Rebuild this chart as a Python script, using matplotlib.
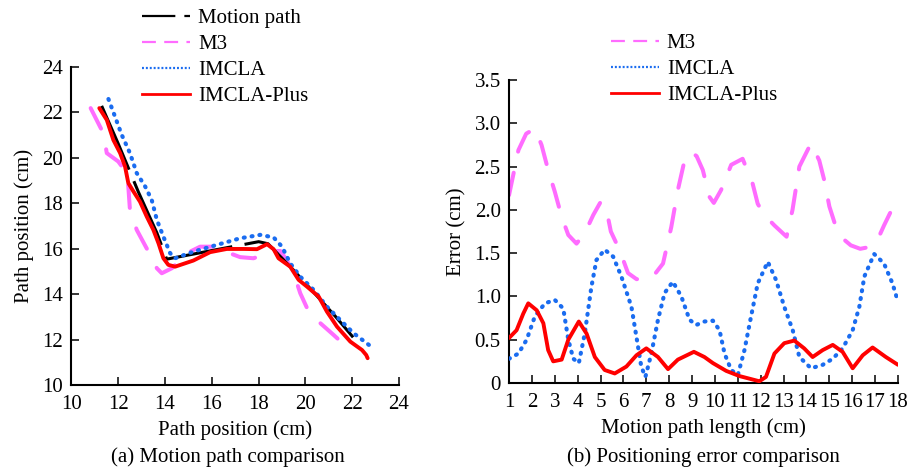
import numpy as np
import matplotlib
matplotlib.use("Agg")
import matplotlib.pyplot as plt
from matplotlib.lines import Line2D

plt.rcParams['font.family'] = ['Liberation Serif', 'DejaVu Serif']
plt.rcParams['font.size'] = 15
plt.rcParams['lines.scale_dashes'] = False

### colours
C_PATH = 'black'
C_M3 = '#ff6cff'
C_IMCLA = '#1a6cf0'
C_PLUS = '#ff0000'

### (a) motion path data
path_x = [11.29, 12.0, 12.86, 13.65, 14.07, 16.0, 18.0, 18.4, 19.5, 20.6, 21.3, 22.04]
path_y = [22.29, 20.62, 18.5, 16.7, 15.54, 15.92, 16.31, 16.22, 15.05, 13.8, 13.0, 12.1]

m3a_x = [10.82, 11.36, 11.51, 12.0, 12.36, 12.43, 12.5, 12.79, 13.29, 13.65, 13.86, 14.29,
         14.93, 15.5, 16.07, 16.64, 17.21, 17.78, 18.2, 18.6, 18.93, 19.2, 19.5, 19.78,
         20.14, 20.64, 21.21, 21.78]
m3a_y = [22.19, 21.09, 20.21, 19.84, 19.33, 18.74, 17.71, 16.83, 15.87, 15.14, 14.92, 15.14,
         15.8, 16.09, 16.09, 15.85, 15.63, 15.58, 15.73, 15.9, 15.9, 15.5, 14.92, 14.04,
         13.23, 12.72, 12.2, 11.66]

ima_x = [11.58, 11.86, 12.15, 12.5, 12.79, 13.15, 13.43, 13.65, 13.93, 14.22, 14.43, 15.21,
         16.22, 17.21, 18.07, 18.64, 19.0, 19.35, 19.78, 20.35, 20.92, 21.49, 22.06, 22.81]
ima_y = [22.59, 21.82, 21.01, 20.21, 19.33, 18.74, 18.15, 17.27, 16.53, 15.8, 15.58, 15.87,
         16.17, 16.46, 16.61, 16.5, 16.09, 15.36, 14.77, 14.19, 13.45, 12.86, 12.28, 11.69]

plusa_x = [11.19, 11.51, 11.79, 12.08, 12.29, 12.43, 12.65, 12.93, 13.22, 13.5, 13.72, 13.93,
           14.14, 14.43, 15.21, 15.93, 16.64, 17.35, 17.93, 18.36, 18.64, 18.85, 19.35, 19.71,
           20.07, 20.57, 20.92, 21.35, 21.92, 22.42, 22.6, 22.66]
plusa_y = [22.19, 21.67, 20.79, 20.21, 19.62, 18.89, 18.52, 18.07, 17.41, 16.83, 16.24, 15.58,
           15.29, 15.21, 15.48, 15.85, 15.99, 15.99, 15.98, 16.2, 15.98, 15.58, 15.21, 14.63,
           14.33, 13.89, 13.23, 12.57, 11.91, 11.54, 11.32, 11.18]

### (b) positioning error data
m3b_x = [1.0, 1.41, 1.75, 2.13, 2.42, 2.71, 3.0, 3.3, 3.59, 3.95, 4.31, 4.68, 5.0, 5.26, 5.45,
         5.77, 5.91, 6.2, 6.57, 6.93, 7.29, 7.73, 8.09, 8.38, 8.67, 8.96, 9.2, 9.47, 9.76,
         9.95, 10.27, 10.71, 11.21, 11.65, 11.87, 12.16, 12.6, 13.13, 13.39, 13.69, 14.2,
         14.56, 14.78, 15.0, 15.29, 15.58, 15.94, 16.35, 16.74, 17.1, 17.39, 17.76, 18.0]
m3b_y = [2.17, 2.69, 2.88, 2.94, 2.75, 2.46, 2.21, 1.92, 1.71, 1.61, 1.73, 1.94, 2.09, 2.0, 1.75,
         1.57, 1.48, 1.27, 1.2, 1.19, 1.23, 1.38, 1.8, 2.23, 2.57, 2.67, 2.62, 2.46, 2.15,
         2.08, 2.23, 2.52, 2.59, 2.3, 2.07, 1.94, 1.82, 1.69, 2.0, 2.5, 2.77,
         2.57, 2.34, 2.04, 1.8, 1.67, 1.59, 1.55, 1.57, 1.65, 1.82, 2.02, 2.12]

imb_x = [1.0, 1.41, 1.77, 2.13, 2.57, 3.0, 3.37, 3.59, 3.81, 4.05, 4.31, 4.6, 4.82, 5.18, 5.55,
         5.91, 6.35, 6.57, 6.78, 6.96, 7.22, 7.51, 7.8, 8.16, 8.53, 8.89, 9.18, 9.54, 9.91,
         10.2, 10.42, 10.71, 11.0, 11.29, 11.58, 11.87, 12.31, 12.67, 13.03, 13.4, 13.69,
         14.2, 14.71, 15.15, 15.58, 16.02, 16.31, 16.53, 16.96, 17.39, 17.76, 18.0]
imb_y = [0.28, 0.34, 0.5, 0.77, 0.92, 0.96, 0.86, 0.5, 0.28, 0.23, 0.57, 1.11, 1.42, 1.54, 1.46,
         1.23, 0.88, 0.53, 0.19, 0.07, 0.34, 0.73, 1.04, 1.17, 1.0, 0.73, 0.67, 0.71, 0.72,
         0.61, 0.34, 0.15, 0.09, 0.38, 0.77, 1.15, 1.4, 1.19, 0.88, 0.61, 0.3,
         0.17, 0.21, 0.28, 0.4, 0.61, 0.88, 1.23, 1.49, 1.38, 1.15, 0.94]

plusb_x = [1.0, 1.33, 1.62, 1.84, 2.21, 2.5, 2.71, 2.93, 3.3, 3.59, 4.05, 4.39, 4.75, 5.18, 5.62,
           6.13, 6.57, 7.0, 7.51, 7.95, 8.38, 9.08, 9.54, 9.91, 10.49, 11.07, 11.94, 12.23,
           12.6, 13.03, 13.47, 13.9, 14.27, 14.71, 15.15, 15.58, 16.02, 16.46, 16.89, 17.47, 18.0]
plusb_y = [0.52, 0.61, 0.8, 0.92, 0.84, 0.69, 0.38, 0.25, 0.27, 0.5, 0.71, 0.57, 0.3, 0.15, 0.11,
           0.19, 0.32, 0.4, 0.3, 0.16, 0.27, 0.36, 0.3, 0.23, 0.14, 0.08, 0.02, 0.07,
           0.34, 0.46, 0.49, 0.4, 0.3, 0.38, 0.44, 0.36, 0.17, 0.32, 0.41, 0.3, 0.21]

### styles (dash lengths in points)
st_path = dict(color=C_PATH, lw=2.2, linestyle=(0, (50, 9)), zorder=3)
st_m3 = dict(color=C_M3, lw=2.9, linestyle=(0, (16.5, 15.5)), dash_capstyle='round', zorder=2)
st_im = dict(color=C_IMCLA, lw=3.0, linestyle=(0, (0.7, 5.0)), dash_capstyle='round', zorder=4)
st_plus = dict(color=C_PLUS, lw=2.8, solid_capstyle='round', zorder=5)

leg_handles = {
    'Motion path': Line2D([], [], color=C_PATH, lw=1.6, linestyle=(0, (24, 6.5))),
    'M3': Line2D([], [], color=C_M3, lw=1.6, linestyle=(0, (10, 6))),
    'IMCLA': Line2D([], [], color=C_IMCLA, lw=1.6, linestyle=(0, (1.4, 1.4))),
    'IMCLA-Plus': Line2D([], [], color=C_PLUS, lw=2.0),
}

fig = plt.figure(figsize=(9.21, 4.69), dpi=100)
ax1 = fig.add_axes([0.0776, 0.1791, 0.3556, 0.6780])
ax2 = fig.add_axes([0.5527, 0.1834, 0.4223, 0.6460])

def style_axes(ax):
    for s in ['top', 'right']:
        ax.spines[s].set_visible(False)
    for s in ['left', 'bottom']:
        ax.spines[s].set_linewidth(1.5)
    ax.tick_params(direction='in', length=5.8, width=1.1, labelsize=15)
    ax.tick_params(axis='x', pad=7)
    ax.tick_params(axis='y', pad=6)

### (a)
ax1.plot(m3a_x, m3a_y, **st_m3)
ax1.plot(path_x, path_y, **st_path)
ax1.plot(ima_x, ima_y, **st_im)
ax1.plot(plusa_x, plusa_y, **st_plus)
ax1.set_xlim(10, 24)
ax1.set_ylim(10, 24)
ax1.set_xticks(range(10, 25, 2))
ax1.set_yticks(range(10, 25, 2))
style_axes(ax1)
ax1.set_xlabel('Path position (cm)', fontsize=15, labelpad=5)
ax1.set_ylabel('Path position (cm)', fontsize=15, labelpad=6)

names_a = ['Motion path', 'M3', 'IMCLA', 'IMCLA-Plus']
fig.legend([leg_handles[n] for n in names_a], names_a, loc='upper left',
           bbox_to_anchor=(0.154, 0.981), frameon=False, borderpad=0, borderaxespad=0,
           handlelength=2.3, handletextpad=0.4, labelspacing=0.3, fontsize=15)

### (b)
ax2.plot(m3b_x, m3b_y, **st_m3)
ax2.plot(imb_x, imb_y, **st_im)
ax2.plot(plusb_x, plusb_y, **st_plus)
ax2.set_xlim(1, 18)
ax2.set_ylim(0, 3.5)
ax2.set_xticks(range(1, 19))
ax2.set_yticks([0, 0.5, 1.0, 1.5, 2.0, 2.5, 3.0, 3.5],
               ['0', '0.5', '1.0', '1.5', '2.0', '2.5', '3.0', '3.5'])
style_axes(ax2)
ax2.set_xlabel('Motion path length (cm)', fontsize=15, labelpad=5)
ax2.set_ylabel('Error (cm)', fontsize=15, labelpad=6)

names_b = ['M3', 'IMCLA', 'IMCLA-Plus']
fig.legend([leg_handles[n] for n in names_b], names_b, loc='upper left',
           bbox_to_anchor=(0.663, 0.928), frameon=False, borderpad=0, borderaxespad=0,
           handlelength=2.3, handletextpad=0.4, labelspacing=0.3, fontsize=15)

### captions
fig.text(0.247, 0.026, '(a) Motion path comparison', ha='center', va='center', fontsize=15)
fig.text(0.764, 0.026, '(b) Positioning error comparison', ha='center', va='center', fontsize=15)

fig.savefig('out.png', dpi=100)
